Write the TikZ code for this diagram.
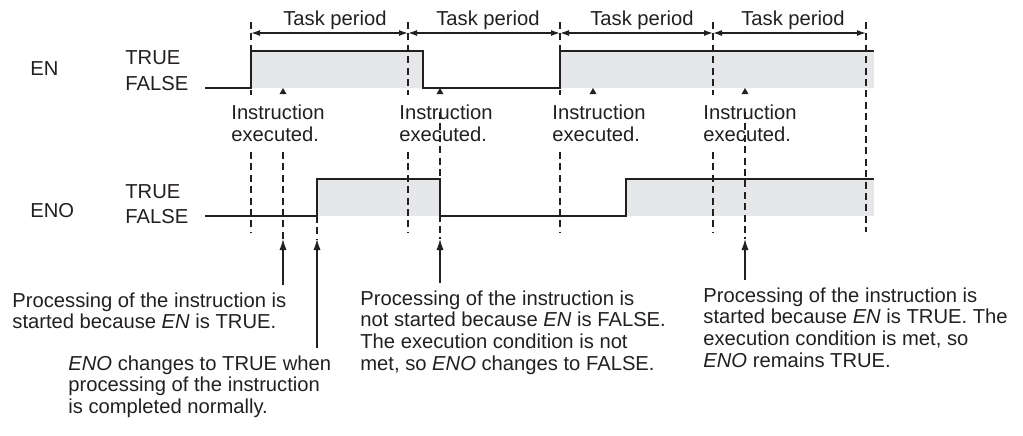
\documentclass[tikz,border=0pt]{standalone}
\usepackage{fontspec}
\setmainfont{Liberation Sans}
\usetikzlibrary{positioning, arrows.meta, shapes.geometric}
\definecolor{ink}{HTML}{231F20}
\definecolor{highgray}{HTML}{E6E7E8}

\begin{document}
\begin{tikzpicture}[x=0.5pt, y=-0.5pt,
	sig/.style={draw=ink, line width=1pt},
	grid/.style={draw=ink, line width=0.75pt, dash pattern=on 3.5pt off 2.2pt},
	up/.style={draw=ink, line width=0.7pt, -{Latex[length=5.5pt, width=3.6pt]}},
	span/.style={draw=ink, line width=0.7pt, {Latex[length=4.5pt, width=3pt]}-{Latex[length=4.5pt, width=3pt]}},
	lbl/.style={inner sep=0, text=ink, font=\fontsize{10.1}{11.3}\selectfont},
	note/.style={inner sep=0, text=ink, align=left, anchor=north west, font=\fontsize{10.1}{10.85}\selectfont},
	exec/.style={note, font=\fontsize{10.1}{11.3}\selectfont},
	tri/.style={fill=ink, regular polygon, regular polygon sides=3, minimum size=4pt, inner sep=0}]
	\useasboundingbox (0,0) rectangle (1023,435);
	
	\fill[highgray] (251,51) rectangle (423,88);
	\fill[highgray] (560,51) rectangle (874,88);
	\fill[highgray] (317,179) rectangle (440,216);
	\fill[highgray] (626,179) rectangle (874,216);
	
	\coordinate (b1) at (251,33);
	\coordinate (b2) at (408,33);
	\coordinate (b3) at (560,33);
	\coordinate (b4) at (713,33);
	\coordinate (b5) at (866,33);
	
	\draw[grid] (251,22) -- (251,95);
	\draw[grid] (408,22) -- (408,95);
	\draw[grid] (560,22) -- (560,95);
	\draw[grid] (713,22) -- (713,95);
	\draw[grid] (251,152) -- (251,232);
	\draw[grid] (408,152) -- (408,232);
	\draw[grid] (560,152) -- (560,232);
	\draw[grid] (713,152) -- (713,232);
	\draw[grid] (866,22) -- (866,232);
	
	\draw[span] (b1) -- (b2);
	\draw[span] (b2) -- (b3);
	\draw[span] (b3) -- (b4);
	\draw[span] (b4) -- (b5);
	\node[lbl, anchor=base] (tp1) at (335,25) {Task period};
	\node[lbl, anchor=base] (tp2) at (488,25) {Task period};
	\node[lbl, anchor=base] (tp3) at (642,25) {Task period};
	\node[lbl, anchor=base] (tp4) at (793,25) {Task period};
	
	\node[lbl, anchor=base west] (en) at (30,75) {EN};
	\node[lbl, anchor=base west] (entrue) at (125,64) {TRUE};
	\node[lbl, anchor=base west] (enfalse) at (125,90) {FALSE};
	\node[lbl, anchor=base west] (eno) at (30,217) {ENO};
	\node[lbl, anchor=base west] (enotrue) at (125,198) {TRUE};
	\node[lbl, anchor=base west] (enofalse) at (125,223) {FALSE};
	
	\draw[sig] (205,88) -- (251,88) -- (251,51) -- (423,51) -- (423,88) -- (560,88) -- (560,51) -- (874,51);
	\draw[sig] (205,216) -- (317,216) -- (317,179) -- (440,179) -- (440,216) -- (626,216) -- (626,179) -- (874,179);
	
	\node[tri] (tri1) at (283,92) {};
	\node[tri] (tri2) at (440,92) {};
	\node[tri] (tri3) at (593,92) {};
	\node[tri] (tri4) at (745,92) {};
	
	\node[exec] (ie1) at (231,104) {Instruction\\executed.};
	\node[exec] (ie2) at (399,104) {Instruction\\executed.};
	\node[exec] (ie3) at (552,104) {Instruction\\executed.};
	\node[exec] (ie4) at (703,104) {Instruction\\executed.};
	
	\coordinate (t1) at (283,239);
	\coordinate (t2) at (317,239);
	\coordinate (t3) at (440,239);
	\coordinate (t4) at (745,239);
	
	\draw[grid] (283,152) -- (t1);
	\draw[grid] (317,216) -- (t2);
	\draw[grid] (440,112) -- (t3);
	\draw[grid] (745,112) -- (t4);
	
	\node[note] (n1) at (12,292) {Processing of the instruction is\\started because \textit{EN} is TRUE.};
	\node[note] (n2) at (68,355) {\textit{ENO} changes to TRUE when\\processing of the instruction\\is completed normally.};
	\node[note] (n3) at (360,290) {Processing of the instruction is\\not started because \textit{EN} is FALSE.\\The execution condition is not\\met, so \textit{ENO} changes to FALSE.};
	\node[note] (n4) at (703,287) {Processing of the instruction is\\started because \textit{EN} is TRUE. The\\execution condition is met, so\\\textit{ENO} remains TRUE.};
	
	\draw[up, shorten <=3.5pt] (n1.north -| t1) -- (t1);
	\draw[up, shorten <=3.5pt] (n2.north -| t2) -- (t2);
	\draw[up, shorten <=3.5pt] (n3.north -| t3) -- (t3);
	\draw[up, shorten <=3.5pt] (n4.north -| t4) -- (t4);
\end{tikzpicture}
\end{document}
